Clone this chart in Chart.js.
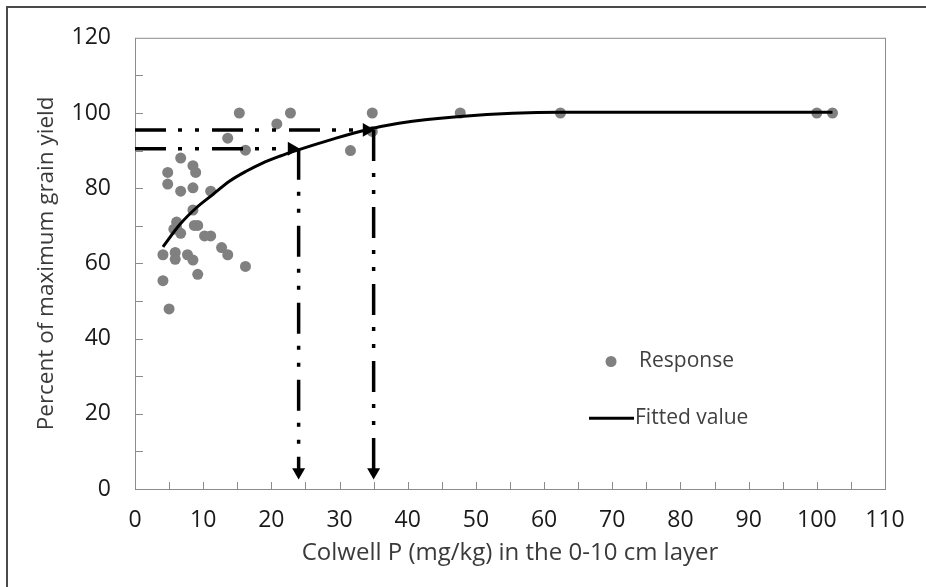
<!DOCTYPE html>
<html>
<head>
<meta charset="utf-8">
<script src="https://cdn.jsdelivr.net/npm/chart.js@4.4.0/dist/chart.umd.min.js"></script>
<style>
  html, body { margin: 0; padding: 0; background: #ffffff; }
  canvas { display: block; }
</style>
</head>
<body>
<canvas id="chart" width="926" height="587"></canvas>
<script>
// Observed responses: Colwell P (mg/kg) and percent of maximum grain yield
const responseP = [6.7, 8.5, 8.9, 4.8, 4.8, 6.7, 8.5, 11.1, 8.5, 6.1,
                   6.1, 6.7, 5.7, 8.7, 9.2, 10.2, 11.1, 12.7, 13.6, 4.1,
                   5.9, 5.9, 7.7, 8.5, 9.2, 16.2, 4.1, 5.0, 16.2, 13.6,
                   15.3, 22.8, 20.8, 34.8, 34.8, 31.6, 47.7, 62.4, 100.0, 102.3];
const responseYield = [88.0, 86.0, 84.2, 84.2, 81.1, 79.2, 80.1, 79.2, 74.2, 71.0,
                       69.5, 68.0, 69.1, 70.1, 70.1, 67.3, 67.3, 64.2, 62.3, 62.3,
                       62.9, 61.1, 62.3, 60.9, 57.1, 59.2, 55.4, 47.9, 90.1, 93.3,
                       100, 100, 97.1, 100, 95.1, 90.0, 100, 100, 100, 100];

// Fitted response curve
const fittedP = [4.1, 6.6, 9.0, 11.4, 13.9, 16.3, 18.7, 21.2, 23.6, 28.9, 33.8, 38.7, 47.7, 62.4, 102.3];
const fittedYield = [64.4, 70.4, 74.8, 78.3, 81.9, 84.5, 86.7, 88.5, 90.0, 93.0, 95.5, 97.3, 99.1, 100.2, 100.2];

// Critical Colwell P values for 90 % and 95 % of maximum yield
const criticalP = [24, 35];
const criticalYield = [90.5, 95.5];
const arrowFloor = 3;

// Axis ranges and steps
const xRange = [0, 110];
const yRange = [0, 120];
const xLabelStep = 10;
const xMinorStep = 5;
const yStep = 10;
const yLabelStep = 20;

const FONT = "'Open Sans', 'DejaVu Sans', sans-serif";
const AXIS_GREY = '#8c8c8c';

const dashDotDot = [31, 12, 4, 13, 4, 13];

function arrowSets() {
  const sets = [];
  criticalP.forEach((p, i) => {
    const y = criticalYield[i];
    sets.push({
      label: 'h' + i,
      data: [{ x: xRange[0], y: y }, { x: p - 1.0, y: y }],
      borderColor: '#000', backgroundColor: '#000',
      borderWidth: 3.5, borderDash: dashDotDot,
      pointRadius: [0, 8], pointStyle: 'triangle', pointRotation: [0, 90],
      pointBorderWidth: 0, showLine: true, order: 1
    });
    sets.push({
      label: 'v' + i,
      data: [{ x: p, y: y }, { x: p, y: arrowFloor + 1.5 }],
      borderColor: '#000', backgroundColor: '#000',
      borderWidth: 3.5, borderDash: dashDotDot,
      pointRadius: [0, 7.5], pointStyle: 'triangle', pointRotation: [0, 180],
      pointBorderWidth: 0, showLine: true, order: 1
    });
  });
  return sets;
}

const decor = {
  id: 'decor',
  beforeDatasetsDraw(chart) {
    const { ctx, chartArea: a, scales: { x, y } } = chart;
    ctx.save();
    ctx.strokeStyle = AXIS_GREY;
    ctx.lineWidth = 1;
    ctx.strokeRect(a.left + 0.5, a.top + 0.5, a.right - a.left, a.bottom - a.top);
    ctx.beginPath();
    for (let v = xRange[0] + xMinorStep; v < xRange[1]; v += xMinorStep) {
      const px = Math.round(x.getPixelForValue(v)) + 0.5;
      ctx.moveTo(px, a.bottom);
      ctx.lineTo(px, a.bottom - 7);
    }
    for (let v = yRange[0] + yStep; v < yRange[1]; v += yStep) {
      const py = Math.round(y.getPixelForValue(v)) + 0.5;
      ctx.moveTo(a.left, py);
      ctx.lineTo(a.left + 8, py);
    }
    ctx.stroke();
    ctx.restore();
  },
  afterDraw(chart) {
    const { ctx, chartArea: a } = chart;
    const w = a.right - a.left, h = a.bottom - a.top;
    ctx.save();
    // outer frame
    ctx.strokeStyle = '#4a4a4a';
    ctx.lineWidth = 2;
    ctx.beginPath();
    ctx.moveTo(7, chart.height);
    ctx.lineTo(7, 7);
    ctx.lineTo(chart.width, 7);
    ctx.stroke();

    // legend
    const pts = chart.data.datasets[0];
    const fit = chart.data.datasets[1];
    const lx = a.left + w * 0.6347;
    const ly1 = a.top + h * 0.7174;
    const ly2 = a.top + h * 0.8433;
    ctx.fillStyle = pts.backgroundColor;
    ctx.beginPath();
    ctx.arc(lx, ly1, 5.5, 0, Math.PI * 2);
    ctx.fill();
    ctx.strokeStyle = fit.borderColor;
    ctx.lineWidth = 3;
    ctx.beginPath();
    ctx.moveTo(lx - 22, ly2);
    ctx.lineTo(lx + 23, ly2);
    ctx.stroke();
    ctx.fillStyle = '#404040';
    ctx.font = '21px ' + FONT;
    ctx.textBaseline = 'middle';
    ctx.textAlign = 'left';
    ctx.fillText(pts.label, lx + 28, ly1);
    ctx.fillText(fit.label, lx + 24, ly2);
    ctx.restore();
  }
};

const chart = new Chart(document.getElementById('chart'), {
  type: 'scatter',
  data: {
    datasets: [
      {
        label: 'Response',
        data: responseP.map((p, i) => ({ x: p, y: responseYield[i] })),
        backgroundColor: '#808080',
        borderWidth: 0,
        pointRadius: 5.5,
        order: 3
      },
      {
        label: 'Fitted value',
        data: fittedP.map((p, i) => ({ x: p, y: fittedYield[i] })),
        showLine: true,
        borderColor: '#000000',
        borderWidth: 3,
        pointRadius: 0,
        cubicInterpolationMode: 'monotone',
        order: 2
      },
      ...arrowSets()
    ]
  },
  options: {
    responsive: false,
    animation: false,
    devicePixelRatio: 1,
    layout: { padding: { left: 0, top: 36, right: 41, bottom: 0 } },
    plugins: {
      legend: { display: false },
      tooltip: { enabled: false }
    },
    scales: {
      x: {
        type: 'linear',
        min: xRange[0], max: xRange[1],
        border: { display: false },
        grid: { display: false, drawTicks: false },
        ticks: {
          stepSize: xLabelStep,
          padding: 18,
          color: '#1a1a1a',
          font: { family: FONT, size: 23 }
        },
        title: {
          display: true,
          text: 'Colwell P (mg/kg) in the 0-10 cm layer',
          color: '#3a3a3a',
          font: { family: FONT, size: 24 },
          padding: { top: 0, bottom: 19 }
        },
        afterFit(scale) { scale.height = 98; }
      },
      y: {
        type: 'linear',
        min: yRange[0], max: yRange[1],
        border: { display: false },
        grid: { display: false, drawTicks: false },
        ticks: {
          stepSize: yLabelStep,
          padding: 24,
          color: '#1a1a1a',
          font: { family: FONT, size: 23 }
        },
        title: {
          display: true,
          text: 'Percent of maximum grain yield',
          color: '#3a3a3a',
          font: { family: FONT, size: 22.5 },
          padding: { top: 33, bottom: 0 }
        },
        afterFit(scale) { scale.width = 135; }
      }
    }
  },
  plugins: [decor]
});
</script>
</body>
</html>
